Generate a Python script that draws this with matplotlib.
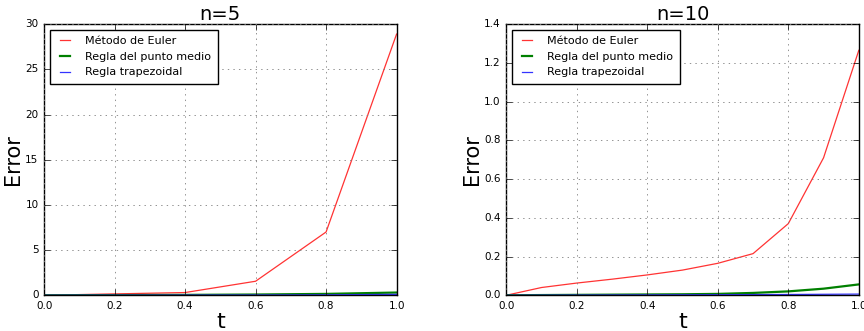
import matplotlib
matplotlib.use('Agg')
import matplotlib.pyplot as plt

plt.style.use('classic')

# errores con n=5
t5 = [0.0, 0.2, 0.4, 0.6, 0.8, 1.0]
euler5 = [0.0, 0.15, 0.3, 1.55, 7.0, 28.9]
medio5 = [0.0, 0.02, 0.04, 0.08, 0.15, 0.3]
trap5 = [0.0, 0.01, 0.02, 0.03, 0.05, 0.1]

# errores con n=10
t10 = [0.0, 0.1, 0.2, 0.3, 0.4, 0.5, 0.6, 0.7, 0.8, 0.9, 1.0]
euler10 = [0.0, 0.04, 0.063, 0.083, 0.105, 0.13, 0.165, 0.215, 0.37, 0.71, 1.265]
medio10 = [0.0, 0.001, 0.002, 0.003, 0.004, 0.005, 0.007, 0.012, 0.02, 0.034, 0.056]
trap10 = [0.0, 0.0005, 0.001, 0.0015, 0.002, 0.0025, 0.003, 0.0035, 0.004, 0.005, 0.006]

fig = plt.figure(figsize=(8.64, 3.31), dpi=100, facecolor='white')
ax1 = fig.add_axes([0.051, 0.108, 0.408, 0.819])
ax2 = fig.add_axes([0.586, 0.108, 0.408, 0.819])

for ax, t, e, m, tr, n, xl in [(ax1, t5, euler5, medio5, trap5, 5, -0.06),
                               (ax2, t10, euler10, medio10, trap10, 10, -0.068)]:
    ax.plot(t, e, '-', color='#ff3333', lw=0.9, label=u'Método de Euler')
    ax.plot(t, m, 'g-', lw=1.6, label='Regla del punto medio')
    ax.plot(t, tr, '-', color='#3333ff', lw=0.9, label='Regla trapezoidal')
    ax.set_title('n=%d' % n, fontsize=14, pad=3)
    ax.set_xlabel('t', fontsize=16, labelpad=1)
    ax.set_ylabel('Error', fontsize=15)
    ax.yaxis.set_label_coords(xl, 0.5)
    ax.tick_params(labelsize=7.5)
    ax.grid(True, color='gray', linestyle=':', lw=0.6)
    ax.legend(loc='upper left', fontsize=8, handlelength=1.5,
              handletextpad=1.1, borderpad=0.6, labelspacing=0.5,
              borderaxespad=0.5)

ax1.set_xlim(0, 1)
ax1.set_ylim(0, 30)
ax2.set_xlim(0, 1)
ax2.set_ylim(0, 1.4)

plt.savefig('out.png', dpi=100, facecolor='white')
